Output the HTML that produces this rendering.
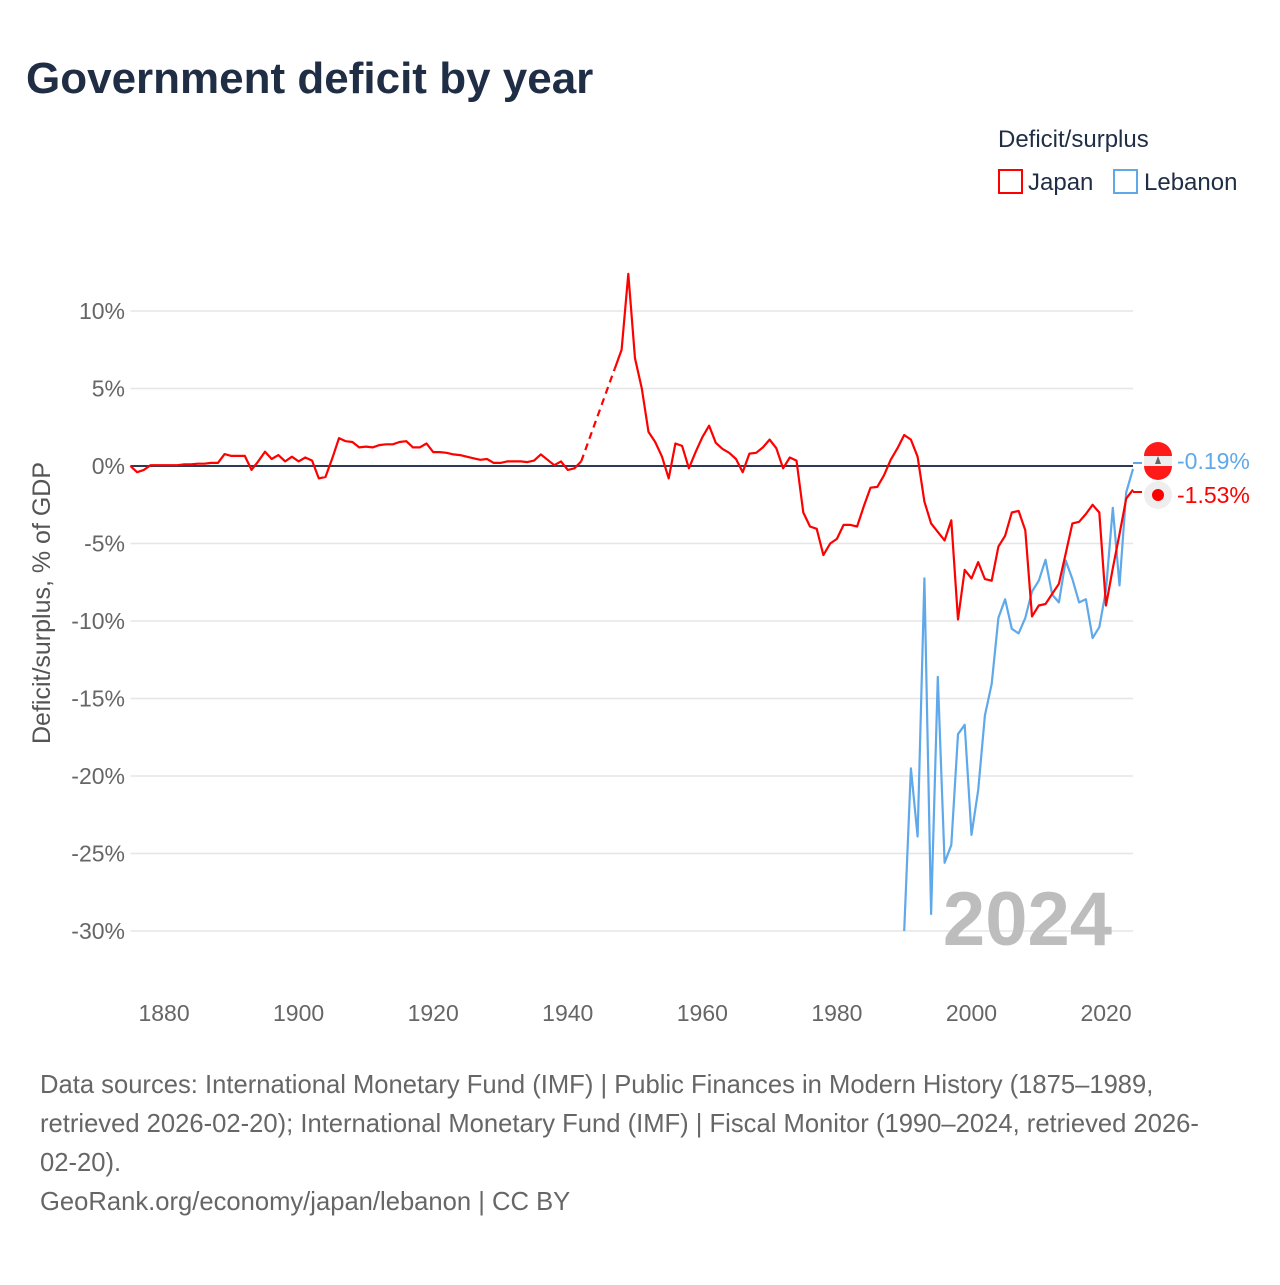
<!DOCTYPE html>
<html><head><meta charset="utf-8">
<style>
html,body{margin:0;padding:0;background:#fff;}
body{width:1280px;height:1280px;overflow:hidden;font-family:"Liberation Sans",sans-serif;}
</style></head>
<body>
<svg id="chart" width="1280" height="1280" viewBox="0 0 1280 1280" xmlns="http://www.w3.org/2000/svg">
<text x="26" y="93" font-size="44" font-weight="bold" fill="#1f2d45">Government deficit by year</text>
<g>
<text x="998" y="147" font-size="24" fill="#1f2d45">Deficit/surplus</text>
<g>
<rect x="999" y="170" width="23" height="23" fill="none" stroke="#ff0000" stroke-width="2"/>
<text x="1028" y="190" font-size="24" fill="#1f2d45">Japan</text></g>
<g>
<rect x="1114" y="170" width="23" height="23" fill="none" stroke="#5fa8ea" stroke-width="2"/>
<text x="1144" y="190" font-size="24" fill="#1f2d45">Lebanon</text></g>
</g>
<g id="grid"></g>
<g id="yticks"></g>
<g id="xticks"></g>
<text transform="translate(50,603) rotate(-90)" text-anchor="middle" font-size="25" fill="#555">Deficit/surplus, % of GDP</text>
<text x="1112" y="945" text-anchor="end" font-size="76" font-weight="bold" fill="#bdbdbd">2024</text>
<g id="series"></g>
<g>
<g>
<line x1="1133" y1="463" x2="1142" y2="463" stroke="#5fa8ea" stroke-width="2"/>
<circle cx="1158" cy="461" r="14" fill="#eee"/>
<path d="M1144,456 A14,14 0 0 1 1172,456 Z" fill="#ff1a1a"/>
<path d="M1144,466 A14,14 0 0 0 1172,466 Z" fill="#ff1a1a"/>
<rect x="1144" y="456" width="28" height="10" fill="#eee"/>
<path d="M1158,456 L1155,464 L1161,464 Z" fill="#666"/>
<text x="1177" y="469" font-size="23" fill="#5fa8ea">-0.19%</text></g>
<g>
<line x1="1133" y1="492" x2="1142" y2="492" stroke="#ff0000" stroke-width="2"/>
<circle cx="1158" cy="495" r="14" fill="#eee"/>
<circle cx="1158" cy="495" r="6" fill="#ff0000"/>
<text x="1177" y="503" font-size="23" fill="#ff0000">-1.53%</text></g>
</g>
<g font-size="25.6" fill="#666">
<text x="40" y="1093">Data sources: International Monetary Fund (IMF) | Public Finances in Modern History (1875–1989,</text>
<text x="40" y="1132">retrieved 2026-02-20); International Monetary Fund (IMF) | Fiscal Monitor (1990–2024, retrieved 2026-</text>
<text x="40" y="1171">02-20).</text>
<text x="40" y="1210">GeoRank.org/economy/japan/lebanon | CC BY</text>
</g>
</svg>
<script>
const yTicks=[10,5,0,-5,-10,-15,-20,-25,-30];
const xTicks=[1880,1900,1920,1940,1960,1980,2000,2020];
const japanStart=1875;
const japanA=[0,-0.4,-0.25,0.05,0.05,0.05,0.05,0.05,0.1,0.1,0.15,0.15,0.2,0.2,0.77,0.65,0.65,0.65,-0.25,0.3,0.92,0.45,0.7,0.3,0.6,0.3,0.55,0.35,-0.8,-0.7,0.5,1.8,1.6,1.55,1.2,1.25,1.2,1.35,1.4,1.4,1.55,1.6,1.2,1.2,1.45,0.9,0.9,0.85,0.75,0.7,0.6,0.5,0.4,0.45,0.2,0.2,0.3,0.3,0.3,0.25,0.35,0.75,0.4,0.05,0.3,-0.25,-0.15,0.3];
const japanBStart=1947;
const japanB=[6.3,7.5,12.4,6.95,5.0,2.2,1.55,0.6,-0.8,1.45,1.3,-0.15,0.9,1.85,2.6,1.5,1.1,0.85,0.45,-0.4,0.8,0.85,1.2,1.7,1.15,-0.15,0.55,0.35,-3.0,-3.9,-4.05,-5.75,-5.0,-4.7,-3.8,-3.8,-3.9,-2.6,-1.4,-1.35,-0.6,0.4,1.15,2.0,1.7,0.6,-2.3,-3.7,-4.25,-4.8,-3.5,-9.9,-6.7,-7.25,-6.2,-7.3,-7.4,-5.2,-4.5,-3.0,-2.9,-4.15,-9.7,-9.0,-8.9,-8.25,-7.6,-5.65,-3.7,-3.6,-3.1,-2.5,-3.0,-9.0,-6.6,-4.4,-2.1,-1.53];
const lebanonStart=1990;
const lebanon=[-30.0,-19.5,-23.9,-7.25,-28.9,-13.6,-25.6,-24.45,-17.3,-16.7,-23.8,-20.9,-16.1,-14.05,-9.8,-8.6,-10.5,-10.8,-9.8,-8.1,-7.4,-6.05,-8.3,-8.8,-6.1,-7.3,-8.8,-8.6,-11.1,-10.4,-8.0,-2.7,-7.7,-1.7,-0.19];

const X0=130.4, X1=1133, Y0=466, PPU=15.5;
const xs=yr=>X0+(yr-1875)*(1106-164)/140;
const ys=v=>Y0-v*PPU;
const NS="http://www.w3.org/2000/svg";
function mk(tag,attrs,parent){const e=document.createElementNS(NS,tag);for(const k in attrs)e.setAttribute(k,attrs[k]);parent.appendChild(e);return e;}
const grid=document.getElementById('grid'),yt=document.getElementById('yticks'),xt=document.getElementById('xticks'),ser=document.getElementById('series');
yTicks.forEach(t=>{
  if(t!==0){const l=mk('line',{x1:X0,x2:X1,y1:ys(t),y2:ys(t),stroke:'#e6e6e6','stroke-width':1.5},grid);
  
  }
  const tx=mk('text',{x:125,y:ys(t)+8,'text-anchor':'end','font-size':23,fill:'#666'},yt);
  tx.textContent=t+'%';
  
  
});
xTicks.forEach(t=>{
  const tx=mk('text',{x:xs(t),y:1021,'text-anchor':'middle','font-size':23,fill:'#666'},xt);
  tx.textContent=t;
  
  
});
const zl=mk('line',{x1:X0,x2:X1,y1:ys(0),y2:ys(0),stroke:'#2b3a55','stroke-width':2},grid);


function pts(start,arr){return arr.map((v,i)=>xs(start+i).toFixed(1)+','+ys(v).toFixed(1)).join(' ');}
const lb=mk('polyline',{points:pts(lebanonStart,lebanon),fill:'none',stroke:'#5fa8ea','stroke-width':2.2,'stroke-linejoin':'round'},ser);


const ja=mk('polyline',{points:pts(japanStart,japanA),fill:'none',stroke:'#ff0000','stroke-width':2.2,'stroke-linejoin':'round'},ser);


const lastA=japanA.length-1;
const jd=mk('line',{x1:xs(japanStart+lastA),y1:ys(japanA[lastA]),x2:xs(japanBStart),y2:ys(japanB[0]),stroke:'#ff0000','stroke-width':2.2,'stroke-dasharray':'7,5'},ser);


const jb=mk('polyline',{points:pts(japanBStart,japanB),fill:'none',stroke:'#ff0000','stroke-width':2.2,'stroke-linejoin':'round'},ser);


</script>
</body></html>
